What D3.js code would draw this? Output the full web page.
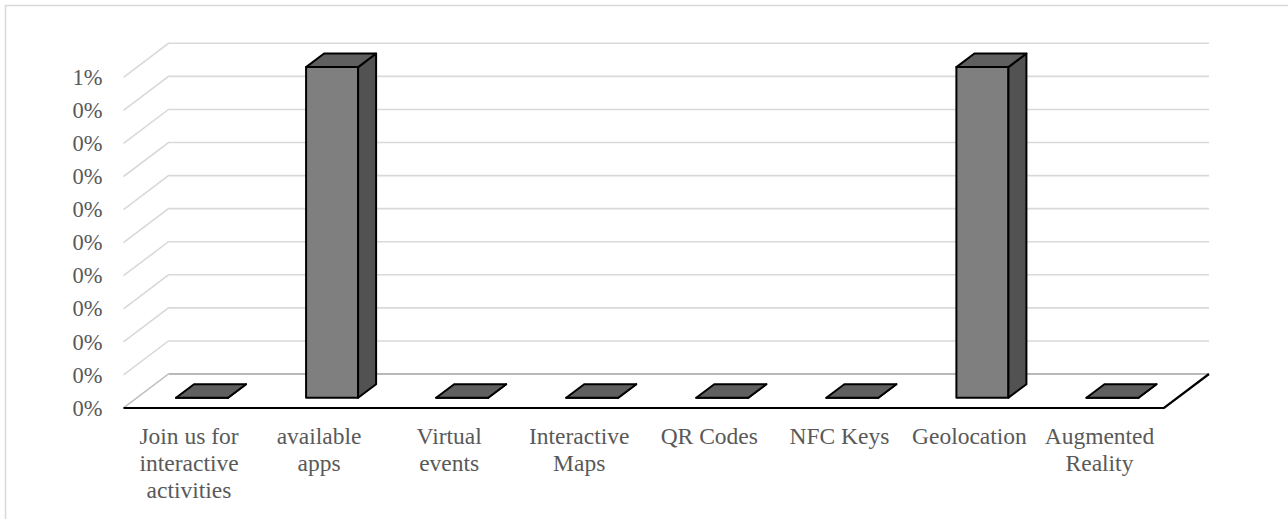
<!DOCTYPE html>
<html>
<head>
<meta charset="utf-8">
<script src="https://cdn.jsdelivr.net/npm/d3@7"></script>
<style>
  html, body { margin: 0; padding: 0; background: #fff; }
  svg { display: block; }
  text { font-family: "Liberation Serif", "Times New Roman", serif; fill: #595959; }
</style>
</head>
<body>
<svg id="chart" width="1288" height="519"></svg>
<script>
// Categories and their shares (fractions)
const categories = [
  "Join us for interactive activities",
  "available apps",
  "Virtual events",
  "Interactive Maps",
  "QR Codes",
  "NFC Keys",
  "Geolocation",
  "Augmented Reality"
];
const values = [0, 0.005, 0, 0, 0, 0, 0.005, 0];

// Value-axis ticks
const yTicks = [0, 0.0005, 0.001, 0.0015, 0.002, 0.0025, 0.003, 0.0035, 0.004, 0.0045, 0.005];

const svg = d3.select("#chart");
const W = 1288, H = 519;

// Plot frame (front plane) and depth offset of the 3D box
const left = 123.5, right = 1164, floorY = 408, topY = 77.3;
const depthX = 45, depthY = -34;
const zFront = 0.3, zBack = 0.7;   // bar depth span as a fraction of the box depth

const x = d3.scaleBand()
  .domain(categories)
  .range([left, right])
  .paddingInner(0.6)
  .paddingOuter(0.3);

const y = d3.scaleLinear().domain([0, 0.005]).range([floorY, topY]);

// Project a front-plane point back by depth fraction z
const P = (px, py, z) => [px + z * depthX, py + z * depthY];
const poly = pts => "M" + pts.map(p => p.join(",")).join("L") + "Z";

// Outer frame
svg.append("rect")
  .attr("x", 5.5).attr("y", 5.5)
  .attr("width", W + 20).attr("height", H + 20)
  .attr("fill", "none").attr("stroke", "#d9d9d9").attr("stroke-width", 1.5);

// Gridlines: side wall diagonal + back wall horizontal
const grid = svg.append("g").attr("fill", "none").attr("stroke", "#d9d9d9").attr("stroke-width", 1.6);
grid.selectAll("path")
  .data(yTicks)
  .join("path")
  .attr("d", v => {
    const a = [left, y(v)];
    const b = P(left, y(v), 1);
    const c = P(right, y(v), 1);
    return "M" + a.join(",") + "L" + b.join(",") + "L" + c.join(",");
  });

// Floor
const fl = [[left, floorY], [right, floorY], P(right, floorY, 1), P(left, floorY, 1)];
svg.append("path").attr("d", poly(fl)).attr("fill", "#fff").attr("stroke", "none");
svg.append("line")
  .attr("x1", fl[3][0]).attr("y1", fl[3][1]).attr("x2", fl[2][0]).attr("y2", fl[2][1])
  .attr("stroke", "#a6a6a6").attr("stroke-width", 1.5);
svg.append("line")
  .attr("x1", fl[0][0]).attr("y1", fl[0][1]).attr("x2", fl[3][0]).attr("y2", fl[3][1])
  .attr("stroke", "#bfbfbf").attr("stroke-width", 1.5);
svg.append("path")
  .attr("d", "M" + fl[0].join(",") + "L" + fl[1].join(",") + "L" + fl[2].join(","))
  .attr("fill", "none").attr("stroke", "#000").attr("stroke-width", 2.2);

// 3D bars
const bars = svg.append("g").attr("stroke", "#000").attr("stroke-width", 2).attr("stroke-linejoin", "round");
categories.forEach((c, i) => {
  const v = values[i];
  const x0 = x(c), x1 = x(c) + x.bandwidth();
  const y0 = y(0), y1 = y(v);
  const g = bars.append("g");
  // front face
  g.append("path").attr("fill", "#7f7f7f")
    .attr("d", poly([P(x0, y0, zFront), P(x1, y0, zFront), P(x1, y1, zFront), P(x0, y1, zFront)]));
  // right side face
  g.append("path").attr("fill", "#525252")
    .attr("d", poly([P(x1, y0, zFront), P(x1, y0, zBack), P(x1, y1, zBack), P(x1, y1, zFront)]));
  // top face
  g.append("path").attr("fill", "#5f5f5f")
    .attr("d", poly([P(x0, y1, zFront), P(x1, y1, zFront), P(x1, y1, zBack), P(x0, y1, zBack)]));
});

// Value axis labels
const yAxis = svg.append("g")
  .attr("transform", `translate(${left},0)`)
  .call(d3.axisLeft(y).tickValues(yTicks).tickFormat(d3.format(".0%")).tickSize(0).tickPadding(21));
yAxis.select(".domain").remove();
yAxis.selectAll("text")
  .attr("font-family", "Liberation Serif, Times New Roman, serif")
  .attr("font-size", 22.5)
  .attr("fill", "#595959");

// Category axis labels (at the front edge of each category), wrapped to fit
const xLabel = d3.scalePoint().domain(categories).range([left + x.step() / 2, right - x.step() / 2]);
const xAxis = svg.append("g")
  .attr("transform", `translate(0,${floorY})`)
  .call(d3.axisBottom(xLabel).tickSize(0));
xAxis.select(".domain").remove();
const lineH = 27, maxW = 124;
xAxis.selectAll("text")
  .attr("font-family", "Liberation Serif, Times New Roman, serif")
  .attr("font-size", 23.5)
  .attr("fill", "#595959")
  .attr("y", 36).attr("dy", 0)
  .each(function() {
    const t = d3.select(this);
    const words = t.text().split(/\s+/);
    t.text(null);
    let lines = [], cur = [];
    const probe = t.append("tspan");
    words.forEach(w => {
      const test = cur.concat([w]).join(" ");
      probe.text(test);
      if (probe.node().getComputedTextLength() > maxW && cur.length) {
        lines.push(cur.join(" "));
        cur = [w];
      } else cur.push(w);
    });
    lines.push(cur.join(" "));
    probe.remove();
    lines.forEach((ln, k) => {
      t.append("tspan").attr("x", 0).attr("y", 36 + k * lineH).text(ln);
    });
  });
</script>
</body>
</html>
